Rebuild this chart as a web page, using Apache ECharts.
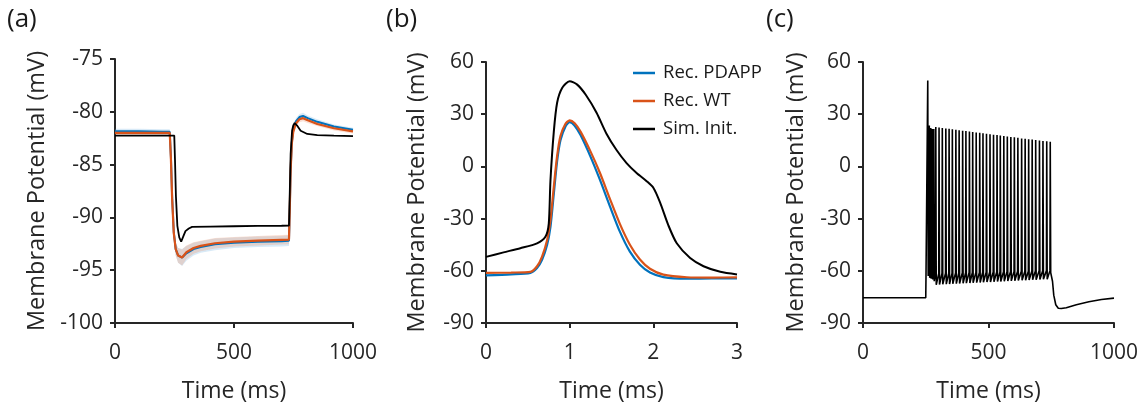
<!DOCTYPE html>
<html>
<head>
<meta charset="utf-8">
<script src="https://cdn.jsdelivr.net/npm/echarts@6/dist/echarts.min.js"></script>
<style>
html,body{margin:0;padding:0;background:#fff;}
#chart{width:1147px;height:408px;}
</style>
</head>
<body>
<div id="chart"></div>
<script>
// ---------- Panel (a): hyperpolarising step (time in ms, potential in mV) ----------
const recTimeA = [0, 100, 200, 230, 235, 240, 247, 255, 265, 282, 300, 330, 360, 420, 500, 600, 700, 731, 734, 738, 743, 749, 760, 775, 790, 810, 850, 920, 1000];
const wtA      = [-82.0, -82.0, -82.0, -82.0, -84.5, -88.2, -91.5, -93.0, -93.6, -93.8, -93.3, -92.9, -92.7, -92.45, -92.3, -92.2, -92.12, -92.1, -89.5, -85.5, -83.0, -81.9, -81.1, -80.7, -80.6, -80.8, -81.15, -81.56, -81.85];
const pdappA   = [-81.85, -81.85, -81.9, -81.9, -84.3, -88.0, -91.4, -93.0, -93.6, -93.8, -93.4, -93.0, -92.8, -92.55, -92.4, -92.3, -92.25, -92.2, -89.6, -85.5, -82.9, -81.7, -80.9, -80.5, -80.4, -80.6, -80.95, -81.4, -81.7];
const wtBandA  = [0.2, 0.2, 0.2, 0.2, 0.3, 0.4, 0.5, 0.6, 0.7, 0.75, 0.65, 0.55, 0.5, 0.5, 0.45, 0.45, 0.45, 0.45, 0.4, 0.3, 0.3, 0.3, 0.3, 0.3, 0.3, 0.25, 0.2, 0.2, 0.2];
const pdBandA  = [0.25, 0.25, 0.25, 0.25, 0.3, 0.4, 0.5, 0.6, 0.7, 0.8, 0.7, 0.6, 0.55, 0.55, 0.5, 0.5, 0.5, 0.5, 0.4, 0.3, 0.3, 0.3, 0.3, 0.3, 0.3, 0.25, 0.25, 0.2, 0.2];
const simTimeA = [0, 100, 200, 249, 252, 256, 262, 270, 278, 287, 296, 310, 324, 400, 500, 600, 700, 731, 734, 738, 744, 749, 755, 765, 780, 808, 850, 920, 1000];
const simA     = [-82.25, -82.25, -82.25, -82.25, -84.5, -88.0, -90.8, -91.9, -92.3, -91.8, -91.3, -91.05, -90.9, -90.87, -90.84, -90.81, -90.79, -90.78, -88.0, -84.0, -81.8, -81.3, -81.06, -81.3, -81.8, -82.1, -82.2, -82.25, -82.3];

// ---------- Panel (b): single action potential (time in ms, potential in mV) ----------
const recTimeB = [0, 0.3, 0.53, 0.61, 0.67, 0.73, 0.77, 0.81, 0.85, 0.89, 0.95, 1.0, 1.06, 1.13, 1.25, 1.36, 1.48, 1.6, 1.72, 1.84, 1.96, 2.12, 2.4, 2.7, 3.0];
const wtB      = [-61.2, -61.0, -60.6, -57.4, -51.8, -42.4, -31.0, -12.0, 6.0, 17.5, 24.5, 26.5, 24.8, 20.0, 8.5, -3.5, -18.5, -33.0, -45.0, -53.5, -58.8, -62.2, -63.7, -63.9, -63.8];
const pdappB   = [-62.6, -62.0, -61.2, -58.4, -53.7, -45.2, -34.9, -16.0, 3.0, 15.0, 23.0, 25.4, 23.4, 18.0, 5.5, -7.5, -22.8, -37.5, -49.0, -56.5, -61.0, -63.6, -64.5, -64.4, -64.3];
const simTimeB = [0, 0.21, 0.41, 0.61, 0.71, 0.75, 0.77, 0.81, 0.85, 0.91, 1.0, 1.09, 1.19, 1.32, 1.44, 1.56, 1.68, 1.8, 1.92, 2.0, 2.08, 2.18, 2.28, 2.44, 2.6, 2.8, 3.0];
const simB     = [-52.0, -49.4, -47.0, -44.2, -40.4, -33.0, -8.5, 19.7, 36.6, 45.1, 49.0, 47.0, 41.3, 31.0, 18.8, 9.4, 1.9, -3.8, -8.5, -12.3, -20.7, -33.9, -44.2, -52.7, -57.4, -60.6, -62.1];

// ---------- Panel (c): spike train (time in ms, potential in mV) ----------
const preTimeC   = [0, 250, 251];
const preC       = [-75.5, -75.5, -63.0];
const spikeTimes = [258, 264, 270, 276, 282, 290, 303, 316, 330, 343, 356, 370, 383, 397, 410, 424, 437, 451, 465, 478, 492, 506, 520, 534, 547, 561, 575, 589, 603, 617, 632, 646, 660, 674, 688, 703, 717, 732, 746];
const spikePeaks = [49.3, 23.5, 22.0, 21.5, 21.5, 22.6, 22.4, 22.1, 21.8, 21.6, 21.3, 21.1, 20.8, 20.5, 20.3, 20.0, 19.8, 19.5, 19.3, 19.0, 18.7, 18.5, 18.2, 18.0, 17.7, 17.4, 17.2, 16.9, 16.7, 16.4, 16.1, 15.9, 15.6, 15.4, 15.1, 14.9, 14.6, 14.4, 14.1];
const spikeOnset = [-62.5, -62.0, -62.0, -62.0, -62.0, -61.5, -61.5, -61.4, -61.4, -61.3, -61.3, -61.2, -61.2, -61.1, -61.1, -61.0, -61.0, -60.9, -60.9, -60.8, -60.8, -60.7, -60.7, -60.6, -60.6, -60.5, -60.5, -60.4, -60.4, -60.3, -60.3, -60.2, -60.2, -60.1, -60.1, -60.0, -60.0, -59.9, -59.9];
const spikeTrough= [-63.0, -64.0, -64.5, -65.0, -66.0, -68.0, -67.9, -67.8, -67.7, -67.6, -67.5, -67.4, -67.3, -67.2, -67.1, -67.0, -66.9, -66.8, -66.7, -66.6, -66.5, -66.4, -66.3, -66.2, -66.1, -66.0, -65.9, -65.8, -65.7, -65.6, -65.5, -65.4, -65.3, -65.2, -65.1, -65.0, -64.9, -64.8, -61.0];
const postTimeC  = [750, 755, 760, 768, 778, 790, 810, 850, 900, 950, 1000];
const postC      = [-62.0, -66.0, -74.0, -79.5, -81.5, -81.7, -81.2, -79.5, -77.8, -76.5, -75.7];

// axis ticks
const xTicksA = {min: 0, max: 1000, interval: 500};
const yTicksA = {min: -100, max: -75, interval: 5};
const xTicksB = {min: 0, max: 3, interval: 1};
const yTicksB = {min: -90, max: 60, interval: 30};
const xTicksC = {min: 0, max: 1000, interval: 500};
const yTicksC = {min: -90, max: 60, interval: 30};

const BLUE = '#0072BD', ORANGE = '#D95319', BLACK = '#000000', AX = '#262626';

function pairs(xs, ys) { return xs.map((x, i) => [x, ys[i]]); }

// build spike train series data from the arrays
const cData = pairs(preTimeC, preC);
spikeTimes.forEach((t, i) => {
  cData.push([t - 1.2, spikeOnset[i]]);
  cData.push([t, spikePeaks[i]]);
  cData.push([t + 1.8, spikeTrough[i]]);
});
pairs(postTimeC, postC).forEach(p => cData.push(p));

const FONT = 'Open Sans';
function xAxis(gi, t) {
  return {
    type: 'value', gridIndex: gi, min: t.min, max: t.max, interval: t.interval,
    name: 'Time (ms)', nameLocation: 'middle', nameGap: 57,
    nameTextStyle: {fontFamily: FONT, fontSize: 23, color: AX},
    axisLine: {show: true, onZero: false, lineStyle: {color: AX, width: 2}},
    axisTick: {show: true, inside: false, length: 5, lineStyle: {color: AX, width: 2}},
    axisLabel: {fontFamily: FONT, fontSize: 21, color: AX, margin: 20, formatter: v => String(v)},
    splitLine: {show: false}
  };
}
function yAxis(gi, t, gap) {
  return {
    type: 'value', gridIndex: gi, min: t.min, max: t.max, interval: t.interval,
    name: 'Membrane Potential (mV)', nameLocation: 'middle', nameGap: gap, nameRotate: 90,
    nameTextStyle: {fontFamily: FONT, fontSize: 23.5, color: AX},
    axisLine: {show: true, onZero: false, lineStyle: {color: AX, width: 2}},
    axisTick: {show: true, inside: false, length: 5, lineStyle: {color: AX, width: 2}},
    axisLabel: {fontFamily: FONT, fontSize: 21, color: AX, margin: 12, formatter: v => String(v)},
    splitLine: {show: false}
  };
}
function line(name, xi, data, color, w, extra) {
  return Object.assign({
    name: name, type: 'line', xAxisIndex: xi, yAxisIndex: xi, data: data,
    showSymbol: false, symbol: 'none', smooth: false,
    lineStyle: {color: color, width: w}, itemStyle: {color: color},
    z: 3
  }, extra || {});
}
// shaded band (mean +/- spread) drawn as one polygon through the axis scales
function band(name, xi, xs, ys, b, color) {
  const rows = xs.map((x, i) => [x, ys[i] - b[i], ys[i] + b[i]]);
  return {
    name: name, type: 'custom', xAxisIndex: xi, yAxisIndex: xi, data: rows, z: 1, silent: true,
    encode: {x: 0, y: [1, 2]},
    renderItem: function (params, api) {
      if (params.dataIndexInside !== 0) return null;
      const top = rows.map(r => api.coord([r[0], r[2]]));
      const bot = rows.slice().reverse().map(r => api.coord([r[0], r[1]]));
      return {type: 'polygon', shape: {points: top.concat(bot)}, style: {fill: color}};
    }
  };
}

const chart = echarts.init(document.getElementById('chart'), null, {renderer: 'canvas'});
chart.setOption({
  animation: false,
  textStyle: {fontFamily: FONT},
  grid: [
    {left: 115, top: 59, width: 238, height: 267},
    {left: 486, top: 62, width: 251, height: 266},
    {left: 863, top: 62, width: 251, height: 266}
  ],
  xAxis: [xAxis(0, xTicksA), xAxis(1, xTicksB), xAxis(2, xTicksC)],
  yAxis: [yAxis(0, yTicksA, 66), yAxis(1, yTicksB, 57), yAxis(2, yTicksC, 55)],
  legend: {
    data: ['Rec. PDAPP', 'Rec. WT', 'Sim. Init.'],
    orient: 'vertical', left: 628, top: 54, itemGap: 0,
    icon: 'rect', itemWidth: 22, itemHeight: 2.5,
    textStyle: {fontFamily: FONT, fontSize: 18.5, color: '#1a1a1a', lineHeight: 28, padding: [0, 0, 0, 3]},
    selectedMode: false
  },
  graphic: [
    {type: 'text', left: 7, top: 7, style: {text: '(a)', font: '26px "Open Sans"', fill: '#1a1a1a'}},
    {type: 'text', left: 386, top: 7, style: {text: '(b)', font: '26px "Open Sans"', fill: '#1a1a1a'}},
    {type: 'text', left: 766, top: 7, style: {text: '(c)', font: '26px "Open Sans"', fill: '#1a1a1a'}}
  ],
  series: [
    band('pdBand', 0, recTimeA, pdappA, pdBandA, 'rgba(100,170,225,0.25)'),
    band('wtBand', 0, recTimeA, wtA, wtBandA, 'rgba(240,150,110,0.3)'),
    line('Rec. PDAPP', 0, pairs(recTimeA, pdappA), BLUE, 2),
    line('Rec. WT', 0, pairs(recTimeA, wtA), ORANGE, 2.2),
    line('Sim. Init.', 0, pairs(simTimeA, simA), BLACK, 1.8),
    line('Rec. PDAPP', 1, pairs(recTimeB, pdappB), BLUE, 2.2, {smooth: 0.25}),
    line('Rec. WT', 1, pairs(recTimeB, wtB), ORANGE, 2.2, {smooth: 0.25}),
    line('Sim. Init.', 1, pairs(simTimeB, simB), BLACK, 2, {smooth: 0.25}),
    line('Sim. Init.', 2, cData, BLACK, 1.6)
  ]
});
</script>
</body>
</html>
